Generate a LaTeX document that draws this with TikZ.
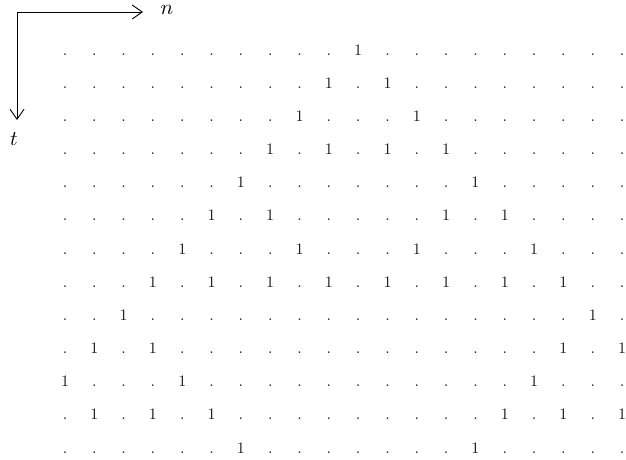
\documentclass[tikz,border=0pt]{standalone}
\usetikzlibrary{arrows.meta}
\def\celldot{.}
\def\cellone{1}
\tikzset{
  cellst/.style={anchor=base, inner sep=0pt, scale=1.6, text=black!90},
  axis/.style={line width=0.9pt, -{Straight Barb[length=10pt,width=14pt,line width=0.9pt]}},
  axlabel/.style={anchor=base, inner sep=0pt, scale=2.1}
}
\begin{document}
\begin{tikzpicture}[x=1pt,y=-1pt]
\useasboundingbox (0,0) rectangle (626,459);
\foreach \r/\ones in {0/{10},1/{9,11},2/{8,12},3/{7,9,11,13},4/{6,14},5/{5,7,13,15},6/{4,8,12,16},7/{3,5,7,9,11,13,15,17},8/{2,18},9/{1,3,17,19},10/{0,4,16},11/{1,3,5,15,17,19},12/{6,14}}{
  \foreach \k in {0,...,19}{
    \global\let\cell\celldot
    \foreach \o in \ones {\ifnum\o=\k\relax\global\let\cell\cellone\fi}
    \node[cellst] (c-\r-\k) at ({65+29.32*\k},{55+33.17*\r}) {\cell};
  }
}
\coordinate (origin) at (17,12);
\coordinate (ntip) at (143,12);
\coordinate (ttip) at (17,120);
\draw[axis] (origin) -- (ntip);
\draw[axis] (origin) -- (ttip);
\node[axlabel] (nlab) at (167,14) {$n$};
\node[axlabel] (tlab) at (14,145) {$t$};
\end{tikzpicture}
\end{document}
